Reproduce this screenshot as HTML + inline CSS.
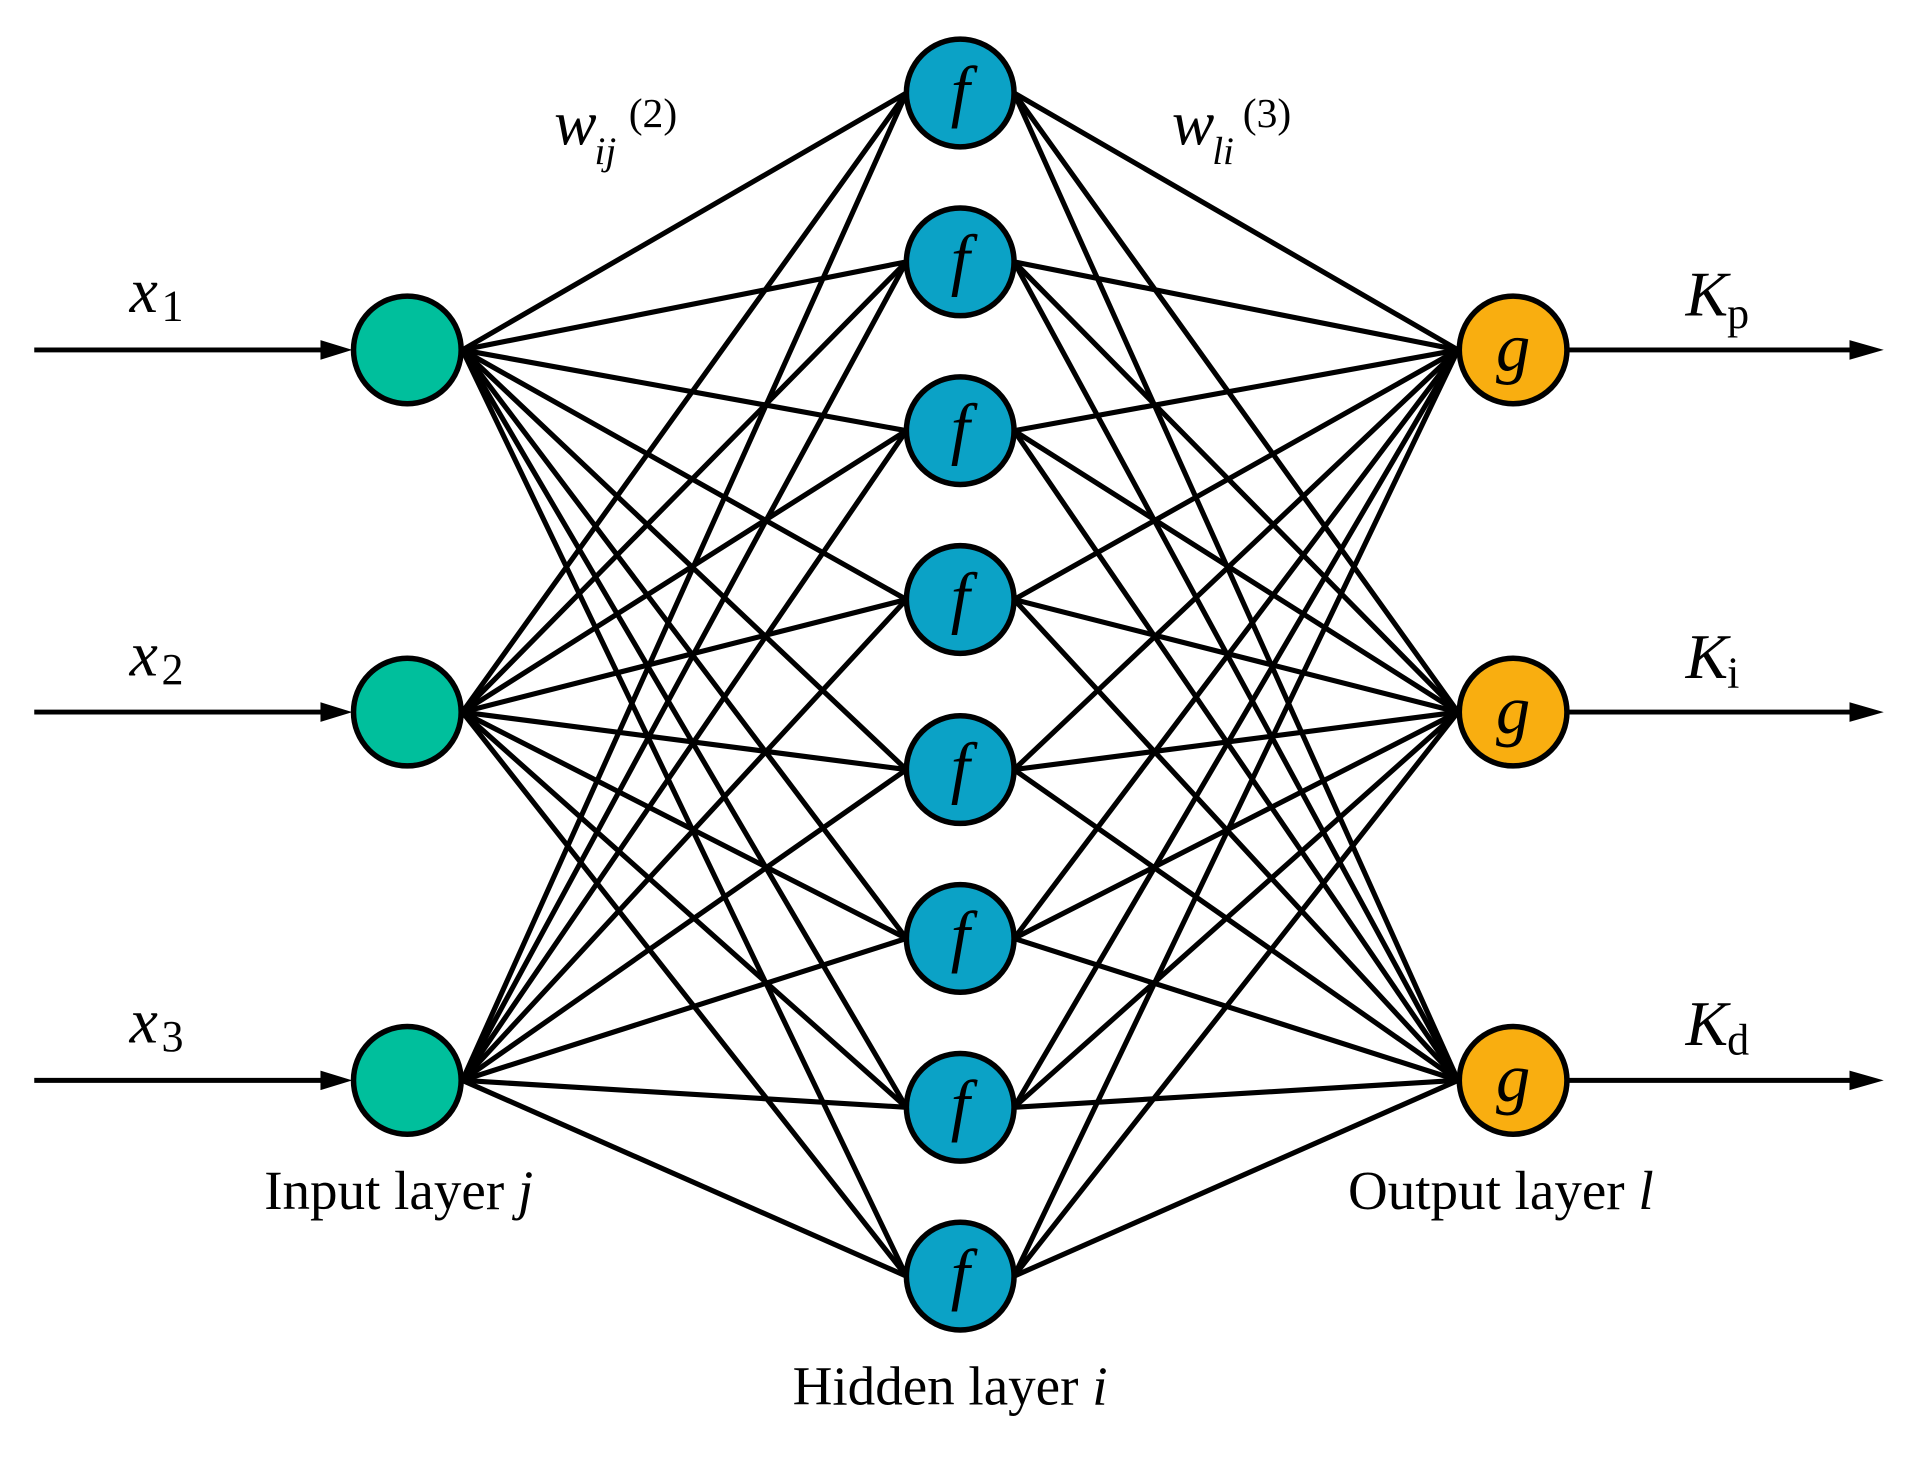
<!DOCTYPE html>
<html><head><meta charset="utf-8"><style>
html,body{margin:0;padding:0;background:#fff;}
svg{display:block;}
text{font-family:"Liberation Serif",serif;fill:#000;}
</style></head><body>
<svg width="1918" height="1467" viewBox="0 0 1568 1199" preserveAspectRatio="none" xmlns="http://www.w3.org/2000/svg">
<g stroke="#000" stroke-width="4">
<line x1="28" y1="286" x2="268" y2="286"/>
<line x1="28" y1="582" x2="268" y2="582"/>
<line x1="28" y1="883" x2="268" y2="883"/>
<line x1="1283" y1="286" x2="1520" y2="286"/>
<line x1="1283" y1="582" x2="1520" y2="582"/>
<line x1="1283" y1="883" x2="1520" y2="883"/>
</g>
<g fill="#000">
<path d="M262,278 L288,286 L262,294 Z"/>
<path d="M262,574 L288,582 L262,590 Z"/>
<path d="M262,875 L288,883 L262,891 Z"/>
<path d="M1512,278 L1540,286 L1512,294 Z"/>
<path d="M1512,574 L1540,582 L1512,590 Z"/>
<path d="M1512,875 L1540,883 L1512,891 Z"/>
</g>
<g stroke="#000" stroke-width="4.2" id="conn"></g>
<g id="nodes"></g>
<text x="106" y="255" font-size="52" font-style="italic">x</text><text x="132" y="262" font-size="36">1</text>
<text x="106" y="552" font-size="52" font-style="italic">x</text><text x="132" y="559" font-size="36">2</text>
<text x="106" y="852" font-size="52" font-style="italic">x</text><text x="132" y="859" font-size="36">3</text>
<text x="1378" y="258" font-size="52" font-style="italic">K</text><text x="1412" y="268" font-size="36">p</text>
<text x="1378" y="554" font-size="52" font-style="italic">K</text><text x="1412" y="562" font-size="36">i</text>
<text x="1378" y="854" font-size="52" font-style="italic">K</text><text x="1412" y="862" font-size="36">d</text>
<text x="453" y="118" font-size="52" font-style="italic">w</text><text x="486" y="134" font-size="32" font-style="italic">ij</text><text x="514" y="104" font-size="34">(2)</text>
<text x="958" y="118" font-size="52" font-style="italic">w</text><text x="991" y="134" font-size="32" font-style="italic">li</text><text x="1016" y="104" font-size="34">(3)</text>
<text x="216" y="988" font-size="45">Input layer <tspan font-style="italic">j</tspan></text>
<text x="1102" y="988" font-size="45">Output layer <tspan font-style="italic">l</tspan></text>
<text x="648" y="1148" font-size="45">Hidden layer <tspan font-style="italic">i</tspan></text>
</svg>
<script>
var ns="http://www.w3.org/2000/svg";
var inY=[286,582,883],hY=[76,214,352,490,629,767,905,1043],oY=[286,582,883];
var c=document.getElementById("conn"),n=document.getElementById("nodes");
function L(a,b,d,e){var l=document.createElementNS(ns,"line");l.setAttribute("x1",a);l.setAttribute("y1",b);l.setAttribute("x2",d);l.setAttribute("y2",e);c.appendChild(l);}
inY.forEach(function(y){hY.forEach(function(h){L(378,y,741,h);});});
hY.forEach(function(h){oY.forEach(function(y){L(829,h,1192,y);});});
function C(x,y,f,t){var e=document.createElementNS(ns,"circle");e.setAttribute("cx",x);e.setAttribute("cy",y);e.setAttribute("r",44);e.setAttribute("fill",f);e.setAttribute("stroke","#000");e.setAttribute("stroke-width","4.5");n.appendChild(e);
if(t){var s=document.createElementNS(ns,"text");s.setAttribute("x",x);s.setAttribute("y",y+17);s.setAttribute("text-anchor","middle");s.setAttribute("font-size","56");s.setAttribute("font-style","italic");s.textContent=t;n.appendChild(s);}}
inY.forEach(function(y){C(333,y,"#00BF9C");});
hY.forEach(function(y){C(785,y,"#0BA2C6","f");});
oY.forEach(function(y){C(1237,y,"#F9AE10","g");});
</script>
</body></html>
